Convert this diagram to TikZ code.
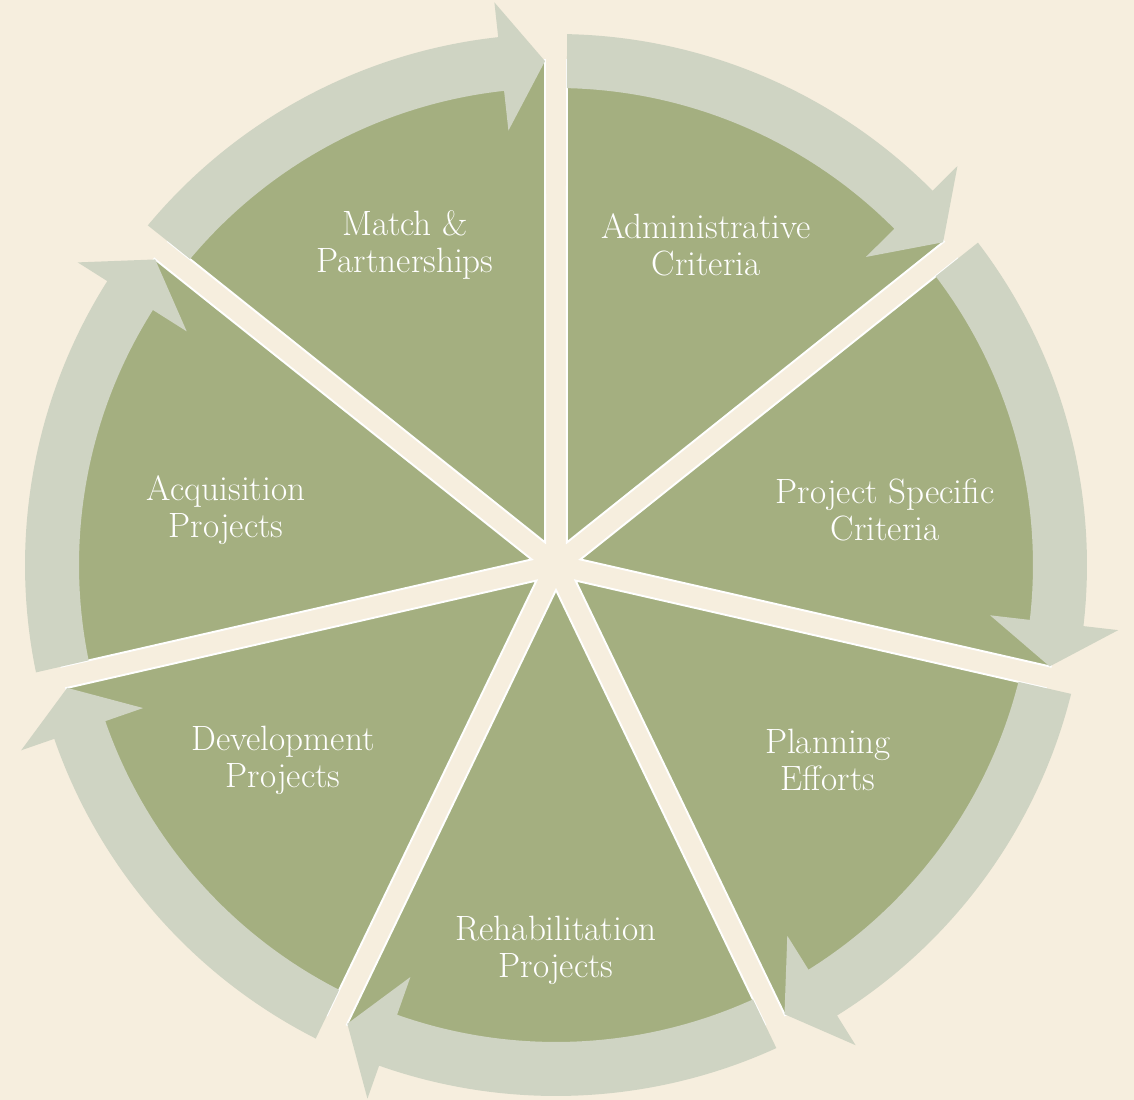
\documentclass[tikz,border=0pt]{standalone}
\usepackage{tikz}
\usetikzlibrary{positioning}
\usepackage{xcolor}
\definecolor{bgbeige}{RGB}{246,238,222}
\definecolor{slicegreen}{RGB}{164,175,128}
\definecolor{arrowgrey}{RGB}{207,212,195}

\begin{document}
\begin{tikzpicture}[scale=0.2]
    %styles
    \tikzstyle{pieslice}=[fill=slicegreen,draw=white,line width=1.1pt]
    \tikzstyle{ringarrow}=[fill=arrowgrey]
    \tikzstyle{slicetext}=[align=center,text=white,font=\fontsize{20}{21}\selectfont]
    %background
    \fill[bgbeige] (-55.6,-53.5) rectangle (57.8,56.5);
    \useasboundingbox (-55.6,-53.5) rectangle (57.8,56.5);

    %slices
    \draw[pieslice] (64.29:2.5) -- (88.75:50.5) arc[start angle=88.75,end angle=39.82,radius=50.5] -- cycle;
    \draw[pieslice] (12.86:2.5) -- (37.32:50.5) arc[start angle=37.32,end angle=-11.61,radius=50.5] -- cycle;
    \draw[pieslice] (-38.57:2.5) -- (-14.11:50.5) arc[start angle=-14.11,end angle=-63.04,radius=50.5] -- cycle;
    \draw[pieslice] (-90:2.5) -- (-65.54:50.5) arc[start angle=-65.54,end angle=-114.46,radius=50.5] -- cycle;
    \draw[pieslice] (-141.43:2.5) -- (-116.96:50.5) arc[start angle=-116.96,end angle=-165.89,radius=50.5] -- cycle;
    \draw[pieslice] (-192.86:2.5) -- (-168.39:50.5) arc[start angle=-168.39,end angle=-217.32,radius=50.5] -- cycle;
    \draw[pieslice] (-244.29:2.5) -- (-219.82:50.5) arc[start angle=-219.82,end angle=-268.75,radius=50.5] -- cycle;

    %arrows
    \fill[ringarrow] (88.81:53.1) arc[start angle=88.81,end angle=44.82,radius=53.1] -- (44.82:56.6) -- (39.82:50.4) -- (44.82:43.7) -- (44.82:47.7) arc[start angle=44.82,end angle=88.68,radius=47.7] -- cycle;
    \fill[ringarrow] (37.38:53.1) arc[start angle=37.38,end angle=-6.61,radius=53.1] -- (-6.61:56.6) -- (-11.61:50.4) -- (-6.61:43.7) -- (-6.61:47.7) arc[start angle=-6.61,end angle=37.25,radius=47.7] -- cycle;
    \fill[ringarrow] (-14.05:53.1) arc[start angle=-14.05,end angle=-58.04,radius=53.1] -- (-58.04:56.6) -- (-63.04:50.4) -- (-58.04:43.7) -- (-58.04:47.7) arc[start angle=-58.04,end angle=-14.18,radius=47.7] -- cycle;
    \fill[ringarrow] (-65.48:53.1) arc[start angle=-65.48,end angle=-109.46,radius=53.1] -- (-109.46:56.6) -- (-114.46:50.4) -- (-109.46:43.7) -- (-109.46:47.7) arc[start angle=-109.46,end angle=-65.61,radius=47.7] -- cycle;
    \fill[ringarrow] (-116.90:53.1) arc[start angle=-116.90,end angle=-160.89,radius=53.1] -- (-160.89:56.6) -- (-165.89:50.4) -- (-160.89:43.7) -- (-160.89:47.7) arc[start angle=-160.89,end angle=-117.04,radius=47.7] -- cycle;
    \fill[ringarrow] (-168.33:53.1) arc[start angle=-168.33,end angle=-212.32,radius=53.1] -- (-212.32:56.6) -- (-217.32:50.4) -- (-212.32:43.7) -- (-212.32:47.7) arc[start angle=-212.32,end angle=-168.47,radius=47.7] -- cycle;
    \fill[ringarrow] (-219.76:53.1) arc[start angle=-219.76,end angle=-263.75,radius=53.1] -- (-263.75:56.6) -- (-268.75:50.4) -- (-263.75:43.7) -- (-263.75:47.7) arc[start angle=-263.75,end angle=-219.90,radius=47.7] -- cycle;

    %nodes
    \node[slicetext] (match) at (-15.1,32.0) {Match \&\\Partnerships};
    \node[slicetext] (admin) at (15.0,32.0) {Administrative\\Criteria};
    \node[slicetext] (specific) at (32.9,5.5) {Project Specific\\Criteria};
    \node[slicetext] (planning) at (27.2,-19.5) {Planning\\Efforts};
    \node[slicetext] (rehab) at (0,-38.5) {Rehabilitation\\Projects};
    \node[slicetext] (develop) at (-27.3,-19.5) {Development\\Projects};
    \node[slicetext] (acquire) at (-33.0,5.5) {Acquisition\\Projects};

\end{tikzpicture}
\end{document}
